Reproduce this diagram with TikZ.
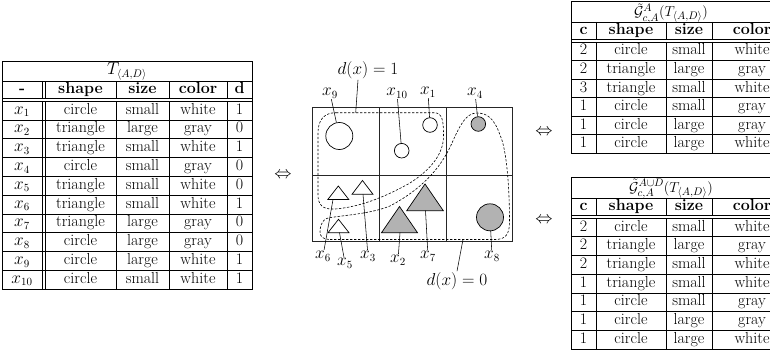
\documentclass[tikz,border=0pt]{standalone}
\usepackage{amsmath,amssymb}
\definecolor{shapegray}{RGB}{178,178,178}
\begin{document}
\begin{tikzpicture}[x=1pt,y=-1pt,
  font=\fontsize{16}{19}\selectfont,
  rule/.style={line width=0.6pt},
  gridl/.style={line width=0.8pt, draw=black!85},
  cellt/.style={inner sep=0pt, text height=11pt, text depth=3.5pt, anchor=center},
  hdr/.style={cellt, font=\fontsize{16}{19}\selectfont\bfseries},
  ttl/.style={inner sep=0pt, font=\fontsize{15}{18}\selectfont},
  lbl/.style={inner sep=1pt},
  ptr/.style={line width=0.55pt},
  dcurve/.style={line width=0.6pt, dash pattern=on 2.4pt off 1.6pt},
  smallc/.style={circle, draw, line width=0.7pt, minimum size=14.6pt, inner sep=0pt},
  bigc/.style={circle, draw, line width=0.7pt, minimum size=27pt, inner sep=0pt},
  tri/.style={draw, line width=0.7pt, fill=white}
  ]
\useasboundingbox (0,0) rectangle (770,353);

% ---------------- left table ----------------
\draw[rule] (2,61) rectangle (252,289);
\foreach \yy in {81,98,101} \draw[rule] (2,\yy) -- (252,\yy);
\foreach \k in {1,...,9} \draw[rule] (2,{101+18.8*\k}) -- (252,{101+18.8*\k});
\foreach \xx in {42,45,116,169,227} {
  \draw[rule] (\xx,81) -- (\xx,98);
  \draw[rule] (\xx,101) -- (\xx,289);
}
\node[cellt] (LT) at (127,71) {$T_{\langle A,D\rangle}$};
\foreach \xx/\t/\n in {22/-/0, 80.5/shape/1, 142.5/size/2, 198/color/3, 239.5/d/4}
  \node[hdr] (LH\n) at (\xx,89.5) {\t};
\foreach \i/\s/\z/\c/\d [count=\r] in {1/circle/small/white/1, 2/triangle/large/gray/0,
  3/triangle/small/white/1, 4/circle/small/gray/0, 5/triangle/small/white/0,
  6/triangle/small/white/1, 7/triangle/large/gray/0, 8/circle/large/gray/0,
  9/circle/large/white/1, 10/circle/small/white/1} {
  \pgfmathsetmacro\yy{101+18.8*(\r-0.5)}
  \node[cellt] (L\r-0) at (22,\yy) {$x_{\i}$};
  \node[cellt] (L\r-1) at (80.5,\yy) {\s};
  \node[cellt] (L\r-2) at (142.5,\yy) {\z};
  \node[cellt] (L\r-3) at (198,\yy) {\c};
  \node[cellt] (L\r-4) at (239.5,\yy) {\d};
}

% ---------------- right table 1 ----------------
\draw[rule] (775,1) -- (571,1) -- (571,153) -- (775,153);
\foreach \yy in {22,39,42} \draw[rule] (571,\yy) -- (775,\yy);
\foreach \k in {1,...,5} \draw[rule] (571,{42+18.5*\k}) -- (775,{42+18.5*\k});
\foreach \xx in {596,666,712} {
  \draw[rule] (\xx,22) -- (\xx,39);
  \draw[rule] (\xx,42) -- (\xx,153);
}
\node[ttl] (AT) at (671,13.5) {$\tilde{\mathcal{G}}^{A}_{c,A}(T_{\langle A,D\rangle})$};
\foreach \xx/\t/\n in {583.5/c/0, 631/shape/1, 689/size/2, 752/color/3}
  \node[hdr] (AH\n) at (\xx,30.5) {\t};
\foreach \c/\s/\z/\w [count=\r] in {2/circle/small/white, 2/triangle/large/gray,
  3/triangle/small/white, 1/circle/small/gray, 1/circle/large/gray, 1/circle/large/white} {
  \pgfmathsetmacro\yy{42+18.5*(\r-0.5)}
  \node[cellt] (A\r-0) at (583.5,\yy) {\c};
  \node[cellt] (A\r-1) at (631,\yy) {\s};
  \node[cellt] (A\r-2) at (689,\yy) {\z};
  \node[cellt] (A\r-3) at (752,\yy) {\w};
}

% ---------------- right table 2 ----------------
\draw[rule] (775,177) -- (571,177) -- (571,349) -- (775,349);
\foreach \yy in {198,215,218} \draw[rule] (571,\yy) -- (775,\yy);
\foreach \k in {1,...,6} \draw[rule] (571,{218+18.71*\k}) -- (775,{218+18.71*\k});
\foreach \xx in {596,666,712} {
  \draw[rule] (\xx,198) -- (\xx,215);
  \draw[rule] (\xx,218) -- (\xx,349);
}
\node[ttl] (BT) at (671,189) {$\tilde{\mathcal{G}}^{A\cup D}_{c,A}(T_{\langle A,D\rangle})$};
\foreach \xx/\t/\n in {583.5/c/0, 631/shape/1, 689/size/2, 752/color/3}
  \node[hdr] (BH\n) at (\xx,206.5) {\t};
\foreach \c/\s/\z/\w [count=\r] in {2/circle/small/white, 2/triangle/large/gray,
  2/triangle/small/white, 1/triangle/small/white, 1/circle/small/gray,
  1/circle/large/gray, 1/circle/large/white} {
  \pgfmathsetmacro\yy{218+18.71*(\r-0.5)}
  \node[cellt] (B\r-0) at (583.5,\yy) {\c};
  \node[cellt] (B\r-1) at (631,\yy) {\s};
  \node[cellt] (B\r-2) at (689,\yy) {\z};
  \node[cellt] (B\r-3) at (752,\yy) {\w};
}

% ---------------- equivalences ----------------
\node (eq1) at (283,175) {$\Leftrightarrow$};
\node (eq2) at (544,132) {$\Leftrightarrow$};
\node (eq3) at (544,220) {$\Leftrightarrow$};

% ---------------- centre scene ----------------
\draw[gridl] (312,107) rectangle (512,241);
\draw[gridl] (379,107) -- (379,241);
\draw[gridl] (446,107) -- (446,241);
\draw[gridl] (312,175) -- (512,175);

% dashed regions
\draw[dcurve] (336,112.7) -- (434,112.7)
  .. controls (443,112.7) and (443.5,122) .. (443.5,137)
  .. controls (443,155) and (430,170) .. (410,183)
  .. controls (385,197) and (360,207) .. (335,209)
  .. controls (322,210) and (318,204) .. (318,195)
  -- (318,133)
  .. controls (318,120) and (324,112.7) .. (336,112.7) -- cycle;
\draw[dcurve] (330,239.5) -- (495,239.5)
  .. controls (505,239.5) and (509.5,235) .. (509.5,222)
  .. controls (509.5,190) and (507,150) .. (500,135)
  .. controls (494,118) and (487,113) .. (477,113)
  .. controls (466,113) and (460,125) .. (452,143)
  .. controls (440,170) and (420,190) .. (390,206)
  .. controls (370,214) and (345,215) .. (328,218)
  .. controls (321,220) and (320,228) .. (320,232)
  .. controls (320,237) and (324,239.5) .. (330,239.5) -- cycle;

% shapes
\node[bigc] (c9) at (339.3,136) {};
\node[smallc] (c10) at (401.7,150.7) {};
\node[smallc] (c1) at (430,125) {};
\node[smallc, fill=shapegray] (c4) at (478.3,124) {};
\node[bigc, fill=shapegray] (c8) at (490,217.3) {};

\draw[tri] (327.8,199.5) -- (338.3,186) -- (348.8,199.5) -- cycle;
\coordinate (t6) at (333,199.5);
\draw[tri] (352,194.3) -- (362.5,180.5) -- (373,194.3) -- cycle;
\coordinate (t3) at (363,194.3);
\draw[tri] (328,232.7) -- (338.5,219.3) -- (349,232.7) -- cycle;
\coordinate (t5) at (339.5,232.7);
\draw[tri, fill=shapegray] (381.5,232.7) -- (399.5,206.5) -- (417.5,232.7) -- cycle;
\coordinate (t2) at (400,232.7);
\draw[tri, fill=shapegray] (406.7,210.7) -- (425,184) -- (443.3,210.7) -- cycle;
\coordinate (t7) at (425.5,210.7);

% labels
\node[lbl] (ld1) at (368,70) {$d(x)=1$};
\node[lbl] (ld0) at (457,281) {$d(x)=0$};
\node[lbl] (lx9) at (330,93) {$x_9$};
\node[lbl] (lx10) at (397,93) {$x_{10}$};
\node[lbl] (lx1) at (428,92) {$x_1$};
\node[lbl] (lx4) at (475,93) {$x_4$};
\node[lbl] (lx6) at (323,256) {$x_6$};
\node[lbl] (lx5) at (345,263) {$x_5$};
\node[lbl] (lx3) at (368,256) {$x_3$};
\node[lbl] (lx2) at (398,260) {$x_2$};
\node[lbl] (lx7) at (428,256) {$x_7$};
\node[lbl] (lx8) at (492,256) {$x_8$};

\coordinate (d1e) at (355.7,112.7);
\coordinate (d0e) at (463,239.5);

% pointers
\draw[ptr] ([xshift=-10pt]ld1.south) -- (d1e);
\draw[ptr] (ld0.north) -- (d0e);
\draw[ptr] (lx9) -- (c9);
\draw[ptr] (lx10) -- (c10);
\draw[ptr] (lx1) -- (c1);
\draw[ptr] (lx4) -- (c4);
\draw[ptr] (lx8) -- (c8);
\draw[ptr] (lx6) -- (t6);
\draw[ptr] (lx5) -- (t5);
\draw[ptr] (lx3) -- (t3);
\draw[ptr] (lx2) -- (t2);
\draw[ptr] (lx7) -- (t7);
\end{tikzpicture}
\end{document}
